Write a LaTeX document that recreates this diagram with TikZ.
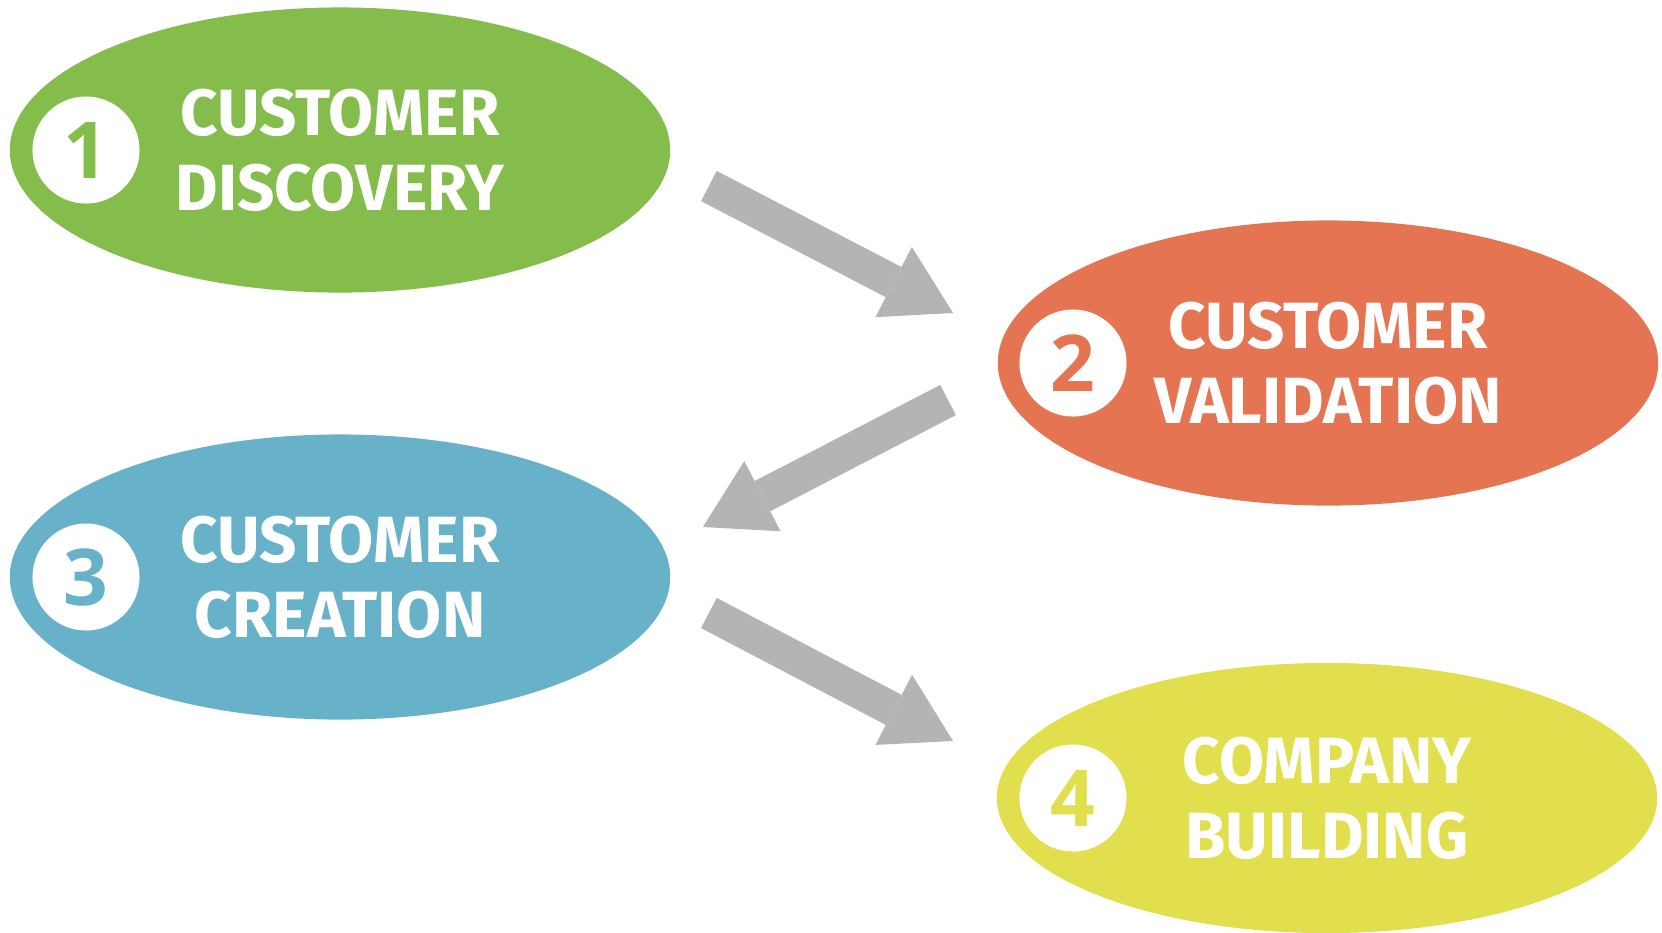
\documentclass[tikz,border=0pt]{standalone}
\usepackage{fontspec}
\setmainfont{Fira Sans}
\newfontfamily\badgefont{Open Sans}
\usepackage{tikz}
\usetikzlibrary{shapes,arrows.meta,positioning}

\definecolor{discgreen}{HTML}{84BD4B}
\definecolor{valorange}{HTML}{E47452}
\definecolor{creablue}{HTML}{68B2C9}
\definecolor{buildyellow}{HTML}{E2DF4E}
\definecolor{flowgray}{HTML}{B4B4B4}

\begin{document}
\begin{tikzpicture}[x=0.01cm, y=-0.01cm,
    stage/.style={ellipse, minimum width=6.6cm, minimum height=2.85cm, inner sep=0pt,
        text=white, align=center, font=\fontsize{18.6}{21.4}\selectfont\bfseries},
    badge/.style={circle, fill=white, minimum size=1.07cm, inner sep=0pt,
        font=\badgefont\fontsize{22.3}{22.3}\selectfont\bfseries},
    flow/.style={draw=flowgray, line width=0.34cm,
        -{Triangle[length=0.67cm, width=0.79cm, line width=0pt]}}]
    \clip (0,0) rectangle (1662,932);

    % The four stages
    \node[stage, fill=discgreen] (disc) at (340,150) {CUSTOMER\\DISCOVERY};
    \node[stage, fill=valorange] (val) at (1328,363) {CUSTOMER\\VALIDATION};
    \node[stage, fill=creablue] (crea) at (340,577) {CUSTOMER\\CREATION};
    \node[stage, fill=buildyellow, minimum height=2.7cm] (build) at (1327,798) {COMPANY\\BUILDING};

    % Numbered badges
    \node[badge, text=discgreen] (n1) at ([shift={(-254,0)}]disc.center) {1};
    \node[badge, text=valorange] (n2) at ([shift={(-255,0)}]val.center) {2};
    \node[badge, text=creablue] (n3) at ([shift={(-254,0)}]crea.center) {3};
    \node[badge, text=buildyellow] (n4) at ([shift={(-254,0)}]build.center) {4};

    % Arrows between the stages
    \draw[flow] ([shift={(38,36)}]disc.east) -- ([shift={(-44,-50)}]val.west);
    \draw[flow] ([shift={(-49,37)}]val.west) -- ([shift={(32,-50)}]crea.east);
    \draw[flow] ([shift={(38,36)}]crea.east) -- ([shift={(-43,-57)}]build.west);
\end{tikzpicture}
\end{document}
